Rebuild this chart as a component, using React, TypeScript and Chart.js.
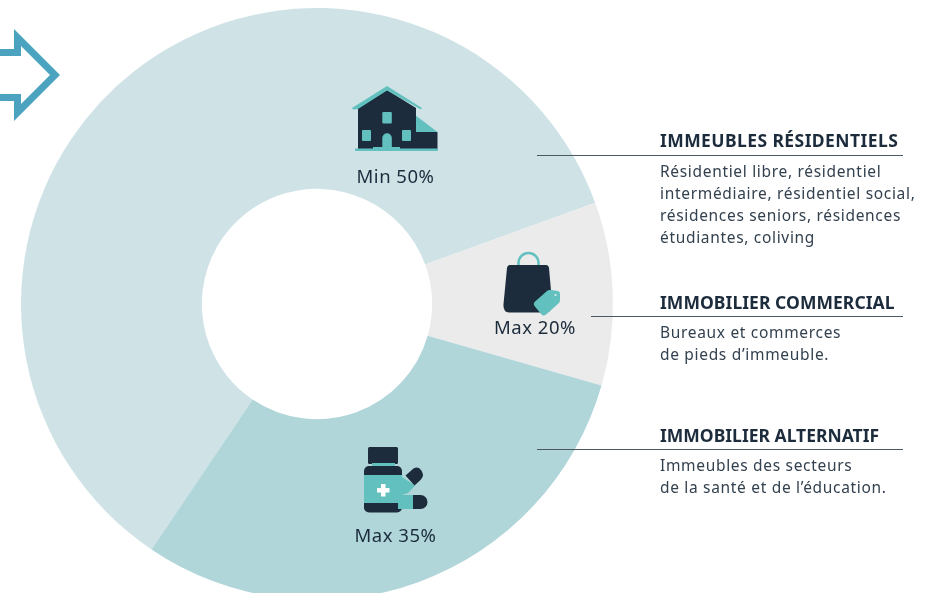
import React, { useEffect, useRef } from "react";
import { Chart, registerables } from "chart.js";

Chart.register(...registerables);

const categories = ["Immeubles résidentiels", "Immobilier commercial", "Immobilier alternatif"];
const sliceShares = [60, 10, 30];
const limitLabels = ["Min 50%", "Max 20%", "Max 35%"];
const sectionTitles = ["IMMEUBLES RÉSIDENTIELS", "IMMOBILIER COMMERCIAL", "IMMOBILIER ALTERNATIF"];
const sectionLines = [
  ["Résidentiel libre, résidentiel", "intermédiaire, résidentiel social,", "résidences seniors, résidences", "étudiantes, coliving"],
  ["Bureaux et commerces", "de pieds d’immeuble."],
  ["Immeubles des secteurs", "de la santé et de l’éducation."],
];

const SLICE_COLORS = ["#cfe3e7", "#ebebeb", "#b0d6d9"];
const DARK = "#1c2c3c";
const TEAL = "#62c1bf";
const FONT = '"Noto Sans", sans-serif';

const labelPos = [
  { x: 395.5, y: 175.5 },
  { x: 535, y: 327 },
  { x: 395.5, y: 534.5 },
];
const sectionPos = [
  { titleY: 140, ruleY: 155, ruleX: 537, bodyY: 171, spacing: 0.42 },
  { titleY: 302, ruleY: 316, ruleX: 591, bodyY: 332, spacing: 0.05 },
  { titleY: 434.5, ruleY: 449, ruleX: 537, bodyY: 464.5, spacing: 0 },
];

function Icons() {
  return (
    <svg width={932} height={593} style={{ position: "absolute", left: 0, top: 0 }}>
      {/* arrow */}
      <polygon
        fill="#4ba3bf"
        points="0,49 14,49 14,29 60,75 14,121 14,101 0,101 0,94 21,94 21,104 50,75 21,46 21,56 0,56"
      />
      {/* house */}
      <polygon fill={TEAL} points="415,115 437.5,132 415,132" />
      <polygon fill={DARK} points="358,108 387,90 416,108 416,132 437.5,132 437.5,149 358,149" />
      <polygon fill={TEAL} points="352,108 387,86 422,108 421,109.5 387,90.5 358,109 353,109.5" />
      <rect x={382.3} y={112} width={9.5} height={11.5} rx={1} fill={TEAL} />
      <rect x={362} y={130} width={9} height={11} rx={1} fill={TEAL} />
      <rect x={402} y={130} width={9} height={11} rx={1} fill={TEAL} />
      <path d="M382.3 148 V138 a4.75 4.75 0 0 1 9.5 0 V148 Z" fill={TEAL} />
      <polygon fill={TEAL} points="355,148.5 373,148.5 373,147 400,147 400,148.5 438,148.5 438,151 355,151" />
      {/* bag */}
      <path d="M518.5 270 V263 a10 10 0 0 1 20 0 V270" fill="none" stroke={TEAL} strokeWidth={2.5} />
      <path d="M510 265 H546 Q548.5 265 549 268 L552 302 Q552.5 312.5 546 312.5 H509 Q503 312.5 503.5 304 L507 268 Q507.5 265 510 265 Z" fill={DARK} />
      <path d="M534.5 302 L547 291 Q548.5 289.5 551 290 L558 291 Q560 291.5 560 294 L560 300 Q560 302 558.5 303.5 L546 314.5 Q543.5 316.5 541.5 314.5 L534.5 306 Q533 304 534.5 302 Z" fill={TEAL} />
      <circle cx={555.5} cy={295} r={1.1} fill="#ebebeb" />
      {/* bottle */}
      <rect x={368} y={447} width={30} height={17} rx={1.5} fill={DARK} />
      <rect x={372} y={463} width={23} height={4} fill={TEAL} />
      <rect x={364} y={466} width={38} height={46.5} rx={5} fill={DARK} />
      <rect x={364} y={475} width={38} height={28} fill={TEAL} />
      <path d="M381 484 h4.5 v4 h4 v4.5 h-4 v4 h-4.5 v-4 h-4 v-4.5 h4 Z" fill="#ffffff" />
      <polygon fill={TEAL} points="402,477 415,485.5 408,493 402,495" />
      <path d="M405.5 475.5 L413.5 468.5 Q418 466 421 470 Q425 475 421 479.5 L414.5 485.5 Z" fill={DARK} />
      <path d="M398 495 H413 V509 H398 Z" fill={TEAL} />
      <path d="M413 495 H420.5 A7 7 0 0 1 420.5 509 H413 Z" fill={DARK} />
    </svg>
  );
}

export default function App() {
  const ref = useRef<HTMLCanvasElement | null>(null);

  useEffect(() => {
    document.body.style.margin = "0";
    const chart = new Chart(ref.current!, {
      type: "doughnut",
      data: {
        labels: categories,
        datasets: [
          {
            data: sliceShares,
            backgroundColor: SLICE_COLORS,
            borderWidth: 0,
          },
        ],
      },
      options: {
        animation: false,
        responsive: false,
        rotation: 214,
        cutout: "38.9%",
        layout: { padding: { left: 21, right: 319, top: 8, bottom: 0 } },
        plugins: { legend: { display: false }, tooltip: { enabled: false } },
      },
    });
    return () => chart.destroy();
  }, []);

  return (
    <div
      style={{
        position: "absolute",
        left: 0,
        top: 0,
        width: 932,
        height: 593,
        overflow: "hidden",
        background: "#ffffff",
        fontFamily: FONT,
        color: DARK,
      }}
    >
      <canvas ref={ref} width={932} height={600} style={{ position: "absolute", left: 0, top: 0, display: "block" }} />
      <Icons />
      {limitLabels.map((t, i) => (
        <div
          key={t}
          style={{
            position: "absolute",
            left: labelPos[i].x - 60,
            width: 120,
            top: labelPos[i].y - 12,
            lineHeight: "24px",
            textAlign: "center",
            fontSize: 18.5,
            letterSpacing: 0.5,
            whiteSpace: "nowrap",
          }}
        >
          {t}
        </div>
      ))}
      {sectionTitles.map((t, i) => (
        <React.Fragment key={t}>
          <div
            style={{
              position: "absolute",
              left: 660,
              top: sectionPos[i].titleY - 12,
              lineHeight: "24px",
              fontSize: 17.5,
              fontWeight: 700,
              letterSpacing: sectionPos[i].spacing,
              whiteSpace: "nowrap",
            }}
          >
            {t}
          </div>
          <div
            style={{
              position: "absolute",
              left: sectionPos[i].ruleX,
              top: sectionPos[i].ruleY,
              width: 903 - sectionPos[i].ruleX,
              height: 1,
              background: "#4d5863",
            }}
          />
          {sectionLines[i].map((line, j) => (
            <div
              key={line}
              style={{
                position: "absolute",
                left: 660,
                top: sectionPos[i].bodyY + j * 22 - 11,
                lineHeight: "22px",
                fontSize: 15.5,
                letterSpacing: 0.68,
                color: "#33414f",
                whiteSpace: "nowrap",
              }}
            >
              {line}
            </div>
          ))}
        </React.Fragment>
      ))}
    </div>
  );
}
